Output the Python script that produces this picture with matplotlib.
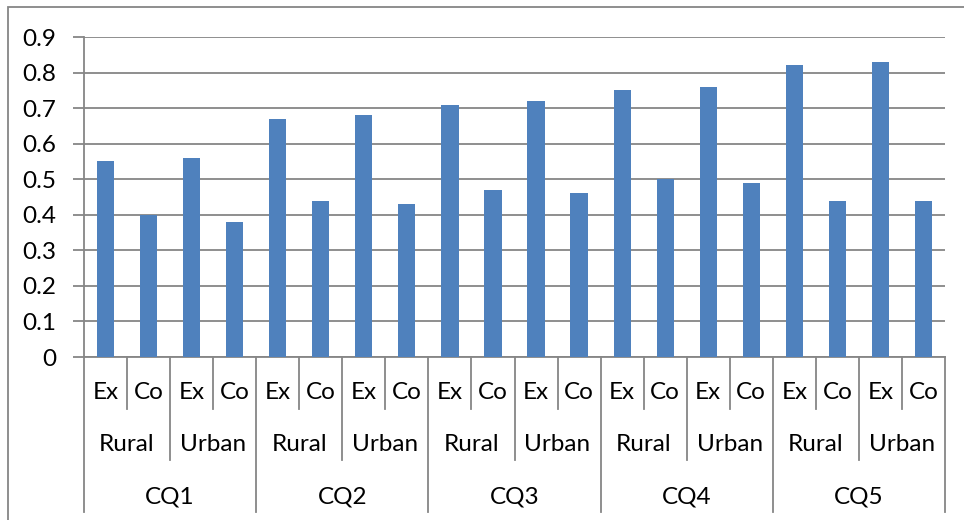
import matplotlib.pyplot as plt
from matplotlib.patches import Rectangle
import matplotlib.transforms as mtransforms

plt.rcParams['font.family'] = ['Lato', 'DejaVu Sans']

# Data
quarters = ['CQ1', 'CQ2', 'CQ3', 'CQ4', 'CQ5']
areas = ['Rural', 'Urban']
kinds = ['Ex', 'Co']
values = [0.55, 0.40, 0.56, 0.38,
          0.67, 0.44, 0.68, 0.43,
          0.71, 0.47, 0.72, 0.46,
          0.75, 0.50, 0.76, 0.49,
          0.82, 0.44, 0.83, 0.44]
yticks = [0, 0.1, 0.2, 0.3, 0.4, 0.5, 0.6, 0.7, 0.8, 0.9]

bar_color = '#4F81BD'
line_color = '#868686'
fs = 17.5

fig = plt.figure(figsize=(9.64, 5.2), dpi=100)
ax = fig.add_axes([84 / 964, (520 - 357) / 520, (945 - 84) / 964, 320 / 520])

x = list(range(len(values)))
ax.bar(x, values, width=0.4, color=bar_color, zorder=3)
ax.set_xlim(-0.5, len(values) - 0.5)
ax.set_ylim(0, 0.9)
ax.set_yticks(yticks)
ax.set_yticklabels([('%g' % t) for t in yticks], fontsize=fs)
ax.yaxis.grid(True, color=line_color, linewidth=1.3, zorder=0)
ax.tick_params(axis='y', length=8, width=1.3, color=line_color, pad=12)
ax.set_xticks([])
for s in ['top', 'right']:
    ax.spines[s].set_visible(False)
for s in ['left', 'bottom']:
    ax.spines[s].set_color(line_color)
    ax.spines[s].set_linewidth(1.3)

# multi-level category axis
trans = mtransforms.blended_transform_factory(ax.transData, ax.transAxes)
lev1, lev2, lev3 = -0.1625, -0.322, -0.484
for k in range(len(values) + 1):
    if k % 4 == 0:
        y1 = lev3
    elif k % 2 == 0:
        y1 = lev2
    else:
        y1 = lev1
    ax.plot([k - 0.5, k - 0.5], [0, y1], color=line_color, lw=1.3,
            transform=trans, clip_on=False)

for i in range(len(values)):
    ax.text(i, -0.112, kinds[i % 2], transform=trans, ha='center', va='center', fontsize=fs)
for j in range(len(values) // 2):
    ax.text(2 * j + 0.5, -0.272, areas[j % 2], transform=trans, ha='center', va='center', fontsize=fs)
for q in range(len(quarters)):
    ax.text(4 * q + 1.5, -0.437, quarters[q], transform=trans, ha='center', va='center', fontsize=fs)

# outer chart border
fig.patches.append(Rectangle((8 / 964, -0.1), 1.1, (520 - 7) / 520 + 0.1,
                             transform=fig.transFigure, fill=False,
                             edgecolor=line_color, linewidth=1.3))

fig.savefig('out.png', dpi=100)
